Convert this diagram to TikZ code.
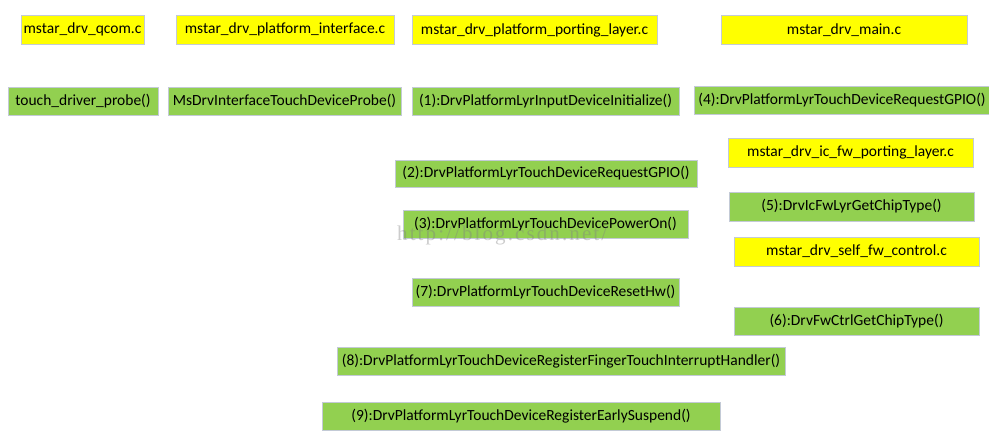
\documentclass[tikz,border=0pt]{standalone}
\usepackage{fontspec}
\setmainfont{Carlito}
\newfontfamily\wmfont[LetterSpace=10]{Liberation Serif}
\definecolor{fileyellow}{HTML}{FFFF00}
\definecolor{fngreen}{HTML}{92D050}
\definecolor{boxline}{HTML}{C3CAD6}
\begin{document}
\begin{tikzpicture}[x=1pt,y=-1pt,
  base/.style={draw=boxline,line width=0.8pt,inner sep=0pt,font=\fontsize{15.5}{17}\selectfont,text=black},
  filebox/.style={base,fill=fileyellow},
  fnbox/.style={base,fill=fngreen}]
\useasboundingbox (0,0) rectangle (989,442);
\fill[white] (0,0) rectangle (989,442);
% file boxes
\node[filebox,minimum width=123pt,minimum height=29pt] (qcom) at (82.5,29.5) {mstar\_drv\_qcom.c};
\node[filebox,minimum width=218pt,minimum height=29pt] (iface) at (285,29.5) {mstar\_drv\_platform\_interface.c};
\node[filebox,minimum width=245pt,minimum height=29pt] (porting) at (534.5,30) {mstar\_drv\_platform\_porting\_layer.c};
\node[filebox,minimum width=246pt,minimum height=29pt] (main) at (844,30) {mstar\_drv\_main.c};
\node[filebox,minimum width=245pt,minimum height=29pt] (icfw) at (850.5,152.5) {mstar\_drv\_ic\_fw\_porting\_layer.c};
\node[filebox,minimum width=245pt,minimum height=29pt] (selffw) at (856.5,251.5) {mstar\_drv\_self\_fw\_control.c};
% function boxes
\node[fnbox,minimum width=150pt,minimum height=28pt] (probe) at (83,101) {touch\_driver\_probe()};
\node[fnbox,minimum width=233pt,minimum height=28pt] (msdrv) at (284.5,101) {MsDrvInterfaceTouchDeviceProbe()};
\node[fnbox,minimum width=267pt,minimum height=28pt] (s1) at (545.5,101) {(1):DrvPlatformLyrInputDeviceInitialize()};
\node[fnbox,minimum width=296pt,minimum height=28pt] (s4) at (842,100) {(4):DrvPlatformLyrTouchDeviceRequestGPIO()};
\node[fnbox,minimum width=302pt,minimum height=27pt] (s2) at (546,173.5) {(2):DrvPlatformLyrTouchDeviceRequestGPIO()};
\node[fnbox,minimum width=245pt,minimum height=29pt] (s5) at (851.5,206.5) {(5):DrvIcFwLyrGetChipType()};
\node[fnbox,minimum width=285pt,minimum height=28pt] (s3) at (545.5,224) {(3):DrvPlatformLyrTouchDevicePowerOn()};
\node[fnbox,minimum width=267pt,minimum height=28pt] (s7) at (545.5,292) {(7):DrvPlatformLyrTouchDeviceResetHw()};
\node[fnbox,minimum width=245pt,minimum height=28pt] (s6) at (856.5,321) {(6):DrvFwCtrlGetChipType()};
\node[fnbox,minimum width=448pt,minimum height=28pt] (s8) at (561,361) {(8):DrvPlatformLyrTouchDeviceRegisterFingerTouchInterruptHandler()};
\node[fnbox,minimum width=398pt,minimum height=28pt] (s9) at (521,416) {(9):DrvPlatformLyrTouchDeviceRegisterEarlySuspend()};
% watermark
\node[anchor=base west,inner sep=0pt,text=gray,opacity=0.4,font=\wmfont\fontsize{21}{22}\selectfont] (wm) at (397,240) {http://blog.csdn.net/};
\end{tikzpicture}
\end{document}
